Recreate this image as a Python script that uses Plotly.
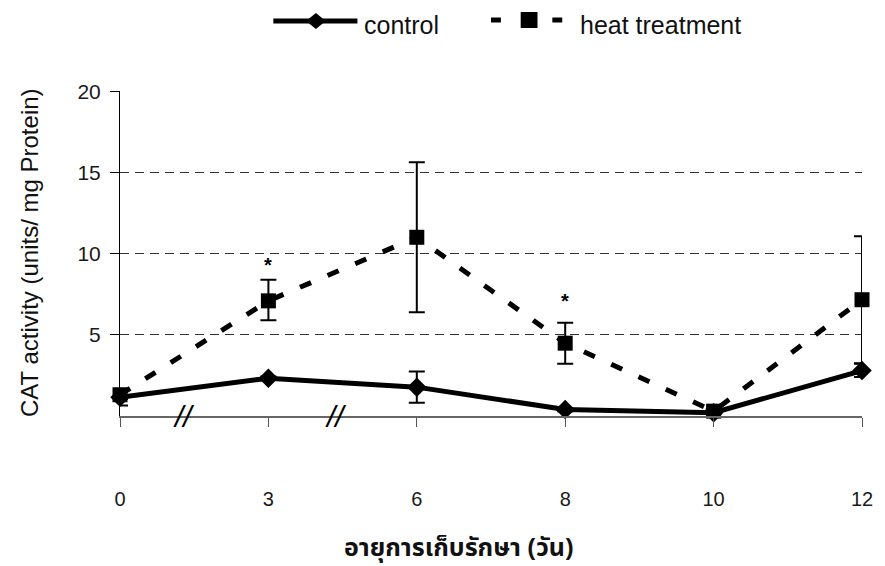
import plotly.graph_objects as go

days = ["0", "3", "6", "8", "10", "12"]
control = [1.15, 2.33, 1.78, 0.40, 0.20, 2.80]
control_err_plus = [0.1, 0.1, 0.97, 0.1, 0.05, 0.45]
control_err_minus = [0.1, 0.1, 0.97, 0.1, 0.05, 0.4]
heat = [1.31, 7.1, 11.02, 4.49, 0.30, 7.17]
heat_err_plus = [0.15, 1.3, 4.63, 1.26, 0.1, 3.91]
heat_err_minus = [0.66, 1.2, 4.63, 1.27, 0.1, 3.95]
y_ticks = [5, 10, 15, 20]
sig_days = [1, 3]
sig_y = [9.3, 7.1]
break_pos = [0.43, 1.45]

xi = list(range(len(days)))
FONT = "Liberation Sans, Arial, sans-serif"
THAI = "Noto Sans Thai, Tahoma, sans-serif"

# layout geometry (pixels)
L, R, T, B, W, H = 120, 15, 91, 150, 885, 566
PW, PH = W - L - R, H - T - B


def px(xp):
    return (xp - L) / PW


def py(yp):
    return (H - B - yp) / PH


fig = go.Figure()
fig.add_trace(go.Scatter(
    x=xi, y=heat, name="heat treatment", mode="lines+markers",
    line=dict(color="black", width=5, dash="12px,18px"),
    marker=dict(symbol="square", size=15, color="black"),
    error_y=dict(type="data", array=heat_err_plus, arrayminus=heat_err_minus,
                 color="black", thickness=2, width=8),
    cliponaxis=False, showlegend=False,
))
fig.add_trace(go.Scatter(
    x=xi, y=control, name="control", mode="lines+markers",
    line=dict(color="black", width=5),
    marker=dict(symbol="diamond", size=15, color="black"),
    error_y=dict(type="data", array=control_err_plus, arrayminus=control_err_minus,
                 color="black", thickness=2, width=8),
    cliponaxis=False, showlegend=False,
))

for d, yv in zip(sig_days, sig_y):
    fig.add_annotation(x=d, y=yv, text="<b>*</b>", showarrow=False,
                       font=dict(size=20, color="black", family=FONT))
for b in break_pos:
    fig.add_annotation(x=b, y=0, text="<i>//</i>", showarrow=False,
                       font=dict(size=30, color="black", family=FONT))

# manual legend (long symbol lines like the original)
shapes = [
    dict(type="line", xref="paper", yref="paper", x0=px(275), x1=px(360),
         y0=py(21), y1=py(21), line=dict(color="black", width=5)),
    dict(type="path", xref="paper", yref="paper",
         path="M {a},{b} L {c},{d} L {e},{b} L {c},{f} Z".format(
             a=px(308), b=py(21), c=px(318), d=py(13), e=px(328), f=py(29)),
         fillcolor="black", line=dict(color="black", width=0)),
    dict(type="line", xref="paper", yref="paper", x0=px(495), x1=px(505),
         y0=py(20), y1=py(20), line=dict(color="black", width=5)),
    dict(type="line", xref="paper", yref="paper", x0=px(557), x1=px(567),
         y0=py(20), y1=py(20), line=dict(color="black", width=5)),
    dict(type="rect", xref="paper", yref="paper", x0=px(525), x1=px(542),
         y0=py(28), y1=py(12), fillcolor="black", line=dict(color="black", width=0)),
]
fig.add_annotation(xref="paper", yref="paper", x=px(365), y=py(25), xanchor="left",
                   yanchor="middle", text="control", showarrow=False,
                   font=dict(size=25, family=FONT, color="#111"))
fig.add_annotation(xref="paper", yref="paper", x=px(583), y=py(25), xanchor="left",
                   yanchor="middle", text="heat treatment", showarrow=False,
                   font=dict(size=25, family=FONT, color="#111"))

# axis titles
fig.add_annotation(xref="paper", yref="paper", x=px(28), y=py(252), xanchor="center",
                   yanchor="middle", textangle=-90,
                   text="CAT activity (units/ mg Protein)", showarrow=False,
                   font=dict(size=24, family=FONT, color="#111"))
fig.add_annotation(xref="paper", yref="paper", x=px(462), y=py(548), xanchor="center",
                   yanchor="middle", text="<b>อายุการเก็บรักษา (วัน)</b>", showarrow=False,
                   font=dict(size=25, family=THAI, color="#111"))

fig.update_layout(
    width=W, height=H,
    margin=dict(l=L, r=R, t=T, b=B),
    plot_bgcolor="white", paper_bgcolor="white",
    font=dict(family=FONT, color="black", size=20),
    showlegend=False,
    shapes=shapes,
    xaxis=dict(range=[0, 5], tickvals=xi, ticktext=days, showgrid=False,
               zeroline=False, showline=True, linecolor="#666", linewidth=1.5,
               ticks="outside", ticklen=9, tickcolor="#555",
               ticklabelstandoff=55, tickfont=dict(size=20, color="#1a1a1a")),
    yaxis=dict(range=[0, 20.04], tickvals=y_ticks, showgrid=True,
               gridcolor="#333", griddash="9px,6px", gridwidth=1,
               zeroline=False, showline=True, linecolor="black", linewidth=1,
               ticks="outside", ticklen=9, tickcolor="black",
               ticklabelstandoff=5, tickfont=dict(size=21, color="#1a1a1a")),
)

fig.write_html("out.html")
